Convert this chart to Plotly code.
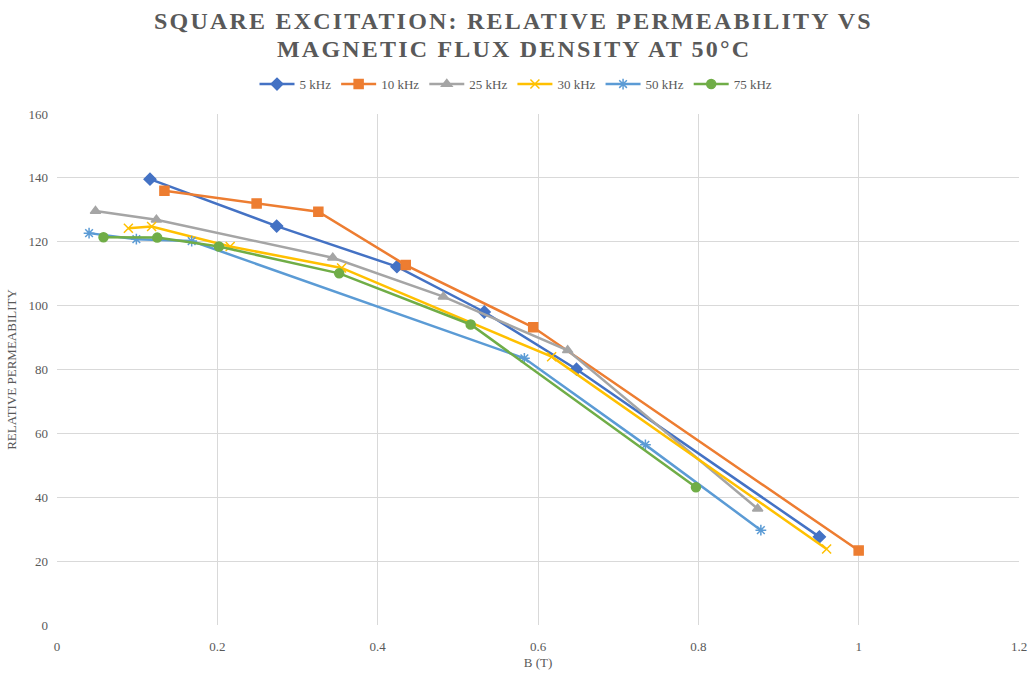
import plotly.graph_objects as go

series_names = ["5 kHz", "10 kHz", "25 kHz", "30 kHz", "50 kHz", "75 kHz"]
b_5k = [0.116, 0.274, 0.424, 0.533, 0.648, 0.951]
mu_5k = [139.6, 124.9, 112.2, 98.0, 80.1, 27.6]
b_10k = [0.134, 0.249, 0.326, 0.435, 0.594, 1.0]
mu_10k = [136.0, 132.0, 129.4, 112.7, 93.2, 23.3]
b_25k = [0.048, 0.124, 0.344, 0.482, 0.637, 0.874]
mu_25k = [129.6, 126.9, 115.0, 102.8, 86.0, 36.4]
b_30k = [0.089, 0.118, 0.216, 0.355, 0.617, 0.960]
mu_30k = [124.2, 124.8, 118.5, 111.8, 84.0, 23.8]
b_50k = [0.040, 0.099, 0.168, 0.583, 0.734, 0.878]
mu_50k = [122.7, 120.8, 120.2, 83.5, 56.4, 29.7]
b_75k = [0.058, 0.125, 0.202, 0.352, 0.516, 0.797]
mu_75k = [121.4, 121.3, 118.5, 110.1, 94.1, 43.1]

title_lines = ["SQUARE EXCITATION: RELATIVE PERMEABILITY VS",
               "MAGNETIC FLUX DENSITY AT 50°C"]

xs = [b_5k, b_10k, b_25k, b_30k, b_50k, b_75k]
ys = [mu_5k, mu_10k, mu_25k, mu_30k, mu_50k, mu_75k]
colors = ["#4472C4", "#ED7D31", "#A5A5A5", "#FFC000", "#5B9BD5", "#70AD47"]
symbols = ["diamond", "square", "triangle-up", "x-thin", "asterisk", "circle"]
sizes = [9, 9, 9, 9, 9, 9]

fig = go.Figure()
for name, x, y, c, s, sz in zip(series_names, xs, ys, colors, symbols, sizes):
    fig.add_trace(go.Scatter(
        x=x, y=y, name=name, mode="lines+markers",
        line=dict(color=c, width=2.5),
        marker=dict(symbol=s, size=sz, color=c, line=dict(color=c, width=1.5)),
    ))

font_family = "Liberation Serif, Times New Roman, serif"

for txt, yy in zip(title_lines, [1.182, 1.127]):
    fig.add_annotation(
        text='<span style="letter-spacing:2.2px"><b>' + txt + '</b></span>',
        xref="paper", yref="paper",
        x=0.475, y=yy, xanchor="center", yanchor="middle", showarrow=False,
        font=dict(family=font_family, size=24, color="#595959"),
    )

fig.update_layout(
    width=1032, height=673,
    margin=dict(l=57, r=13, t=114, b=48, autoexpand=False),
    paper_bgcolor="white", plot_bgcolor="white",
    font=dict(family=font_family, color="#595959", size=13),
    legend=dict(
        orientation="h", x=0.5, xref="container", xanchor="center",
        y=0.875, yref="container", yanchor="middle",
        font=dict(family=font_family, size=13, color="#595959"),
        itemwidth=35, tracegroupgap=0,
    ),
    xaxis=dict(
        range=[0, 1.2], dtick=0.2, showgrid=True, gridcolor="#D9D9D9", gridwidth=1,
        zeroline=False, showline=False, ticks="", ticklabelstandoff=12,
        automargin=False,
        tickfont=dict(size=13, color="#595959"),
        title=dict(text="B (T)", font=dict(size=13, color="#595959"), standoff=4),
    ),
    yaxis=dict(
        range=[0, 160], dtick=20, showgrid=True, gridcolor="#D9D9D9", gridwidth=1,
        zeroline=False, showline=False, ticks="", ticklabelstandoff=8,
        automargin=False,
        tickfont=dict(size=13, color="#595959"),
        title=dict(text="RELATIVE PERMEABILITY", font=dict(size=13, color="#595959"), standoff=8),
    ),
)

fig.write_html("out.html")
